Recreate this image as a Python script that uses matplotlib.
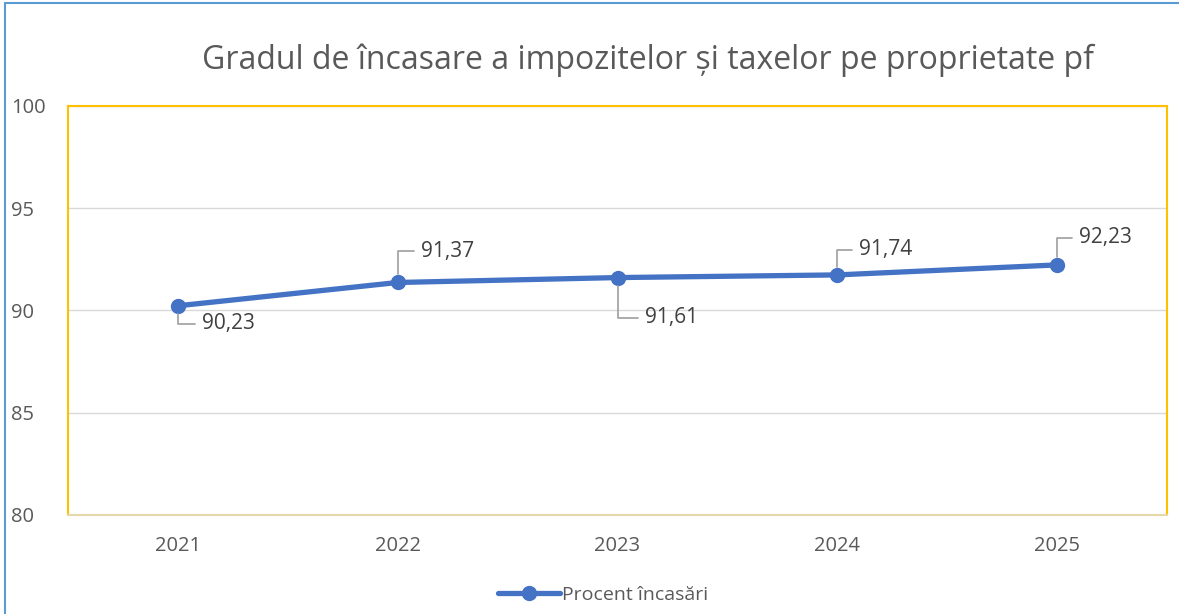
import matplotlib.pyplot as plt
from matplotlib.patches import Rectangle

plt.rcParams['font.family'] = ['Open Sans', 'DejaVu Sans']

years = ['2021', '2022', '2023', '2024', '2025']
values = [90.23, 91.37, 91.61, 91.74, 92.23]
value_labels = ['90,23', '91,37', '91,61', '91,74', '92,23']
# label offsets in pixels (dx, dy) from each point
offsets = [(24, -18), (23, 31), (27, -40), (22, 25), (22, 27)]

fig = plt.figure(figsize=(11.79, 6.14), dpi=100)
ax = fig.add_axes([68 / 1179, 1 - 515 / 614, 1099 / 1179, 409 / 614])

x = list(range(len(years)))
ax.plot(x, values, color='#4472C4', lw=3.8, marker='o', markersize=10,
        solid_capstyle='round', label='Procent încasări', zorder=3)

ax.set_xlim(-0.5, 4.5)
ax.set_ylim(80, 100)
ax.set_yticks([80, 85, 90, 95, 100])
ax.set_xticks(x)
ax.set_xticklabels(years)
ax.grid(axis='y', color='#D9D9D9', lw=1)
ax.set_axisbelow(True)
ax.tick_params(length=0, labelsize=14.5, colors='#595959')
ax.tick_params(axis='x', pad=15)
ax.tick_params(axis='y', pad=41)
for lab in ax.get_yticklabels():
    lab.set_horizontalalignment('left')
for side in ['left', 'top', 'right']:
    ax.spines[side].set_color('#FFC000')
    ax.spines[side].set_linewidth(1.5)
ax.spines['bottom'].set_color('#E6D8A8')
ax.spines['bottom'].set_linewidth(1.5)

for xi, v, lab, (dx, dy) in zip(x, values, value_labels, offsets):
    ax.annotate(lab, (xi, v), xytext=(dx, dy), textcoords='offset pixels',
                ha='left', va='center', fontsize=15, color='#404040',
                arrowprops=dict(arrowstyle='-', color='#A6A6A6', lw=1.3,
                                connectionstyle='angle,angleA=0,angleB=90,rad=0',
                                relpos=(0, 0.5), shrinkA=3, shrinkB=6))

fig.text(648 / 1179, 1 - 60 / 614, 'Gradul de încasare a impozitelor și taxelor pe proprietate pf',
         ha='center', va='center', fontsize=23, color='#595959')

ax.legend(loc='center', bbox_to_anchor=(603 / 1179, 1 - 595 / 614),
          bbox_transform=fig.transFigure, frameon=False, fontsize=14,
          labelcolor='#595959', handlelength=3.2, handletextpad=0.1)

fig.patches.append(Rectangle((5 / 1179, -0.1), 1.2, 1 - 3 / 614 + 0.1,
                             transform=fig.transFigure, fill=False,
                             edgecolor='#5B9BD5', lw=1.5))

fig.savefig('out.png', dpi=100)
